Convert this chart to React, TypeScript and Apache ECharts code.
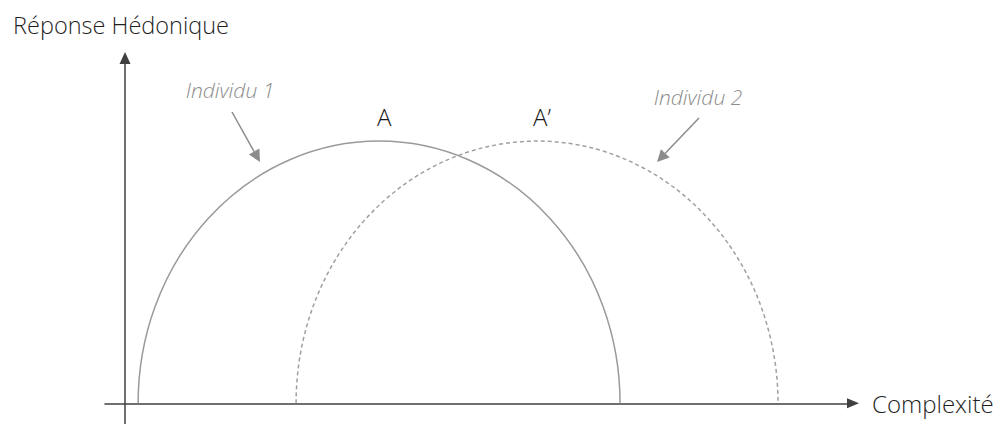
import React, { useEffect, useRef } from "react";
import * as echarts from "echarts";

// Curves: x start, x end, peak height (axis units)
const curveNames = ["Individu 1", "Individu 2"];
const curveStart = [1.8, 23.5];
const curveEnd = [68.0, 89.7];
const curvePeak = [75.9, 75.9];
const peakLabels = ["A", "A\u2019"];
const axisTitles = { x: "Complexité", y: "Réponse Hédonique" };

const FONT = '"Open Sans", "Noto Sans", sans-serif';

function arrowHead(tip: number[], from: number[], len: number, half: number) {
  const dx = tip[0] - from[0];
  const dy = tip[1] - from[1];
  const l = Math.hypot(dx, dy);
  const ux = dx / l, uy = dy / l;
  const nx = -uy, ny = ux;
  const bx = tip[0] - len * ux, by = tip[1] - len * uy;
  return {
    base: [bx, by],
    points: [tip, [bx + half * nx, by + half * ny], [bx - half * nx, by - half * ny]],
  };
}

export default function App() {
  const ref = useRef<HTMLDivElement>(null);
  useEffect(() => {
    if (!ref.current) return;
    const chart = echarts.init(ref.current, null, { renderer: "svg" });

    const a1 = arrowHead([260, 162], [232, 112], 12, 6);
    const a2 = arrowHead([657, 162], [699, 118], 12, 6);
    const annColor = "#8c8c8c";

    const series = curveNames.map((name, i) => ({
      type: "custom",
      name,
      clip: false,
      data: [[curveStart[i], curveEnd[i], curvePeak[i]]],
      renderItem: (params: any, api: any) => {
        const s = api.value(0), e = api.value(1), pk = api.value(2);
        const p0 = api.coord([s, 0]);
        const p1 = api.coord([e, 0]);
        const top = api.coord([(s + e) / 2, pk]);
        const rx = (p1[0] - p0[0]) / 2;
        const ry = p0[1] - top[1];
        return {
          type: "group",
          children: [
            {
              type: "path",
              shape: {
                pathData: `M${p0[0]} ${p0[1]} A${rx} ${ry} 0 0 1 ${p1[0]} ${p1[1]}`,
              },
              style: {
                fill: "none",
                stroke: i === 0 ? "#9a9a9a" : "#a0a0a0",
                lineWidth: 1.5,
                lineDash: i === 0 ? null : [4, 3],
              },
            },
            {
              type: "text",
              x: top[0] + 5,
              y: top[1] - 25,
              style: {
                text: peakLabels[i],
                font: `300 24px ${FONT}`,
                fill: "#1a1a1a",
                align: "center",
                verticalAlign: "middle",
              },
            },
          ],
        };
      },
    }));

    chart.setOption({
      animation: false,
      grid: { left: 105, top: 58, width: 748, height: 366 },
      xAxis: {
        type: "value",
        min: -2.75,
        max: 100,
        name: axisTitles.x,
        nameLocation: "end",
        nameGap: 19,
        nameTextStyle: {
          fontFamily: FONT, fontSize: 24, fontWeight: 300, color: "#1f1f1f",
          verticalAlign: "middle", align: "left",
        },
        axisLine: {
          onZero: true,
          symbol: ["none", "triangle"],
          symbolSize: [10, 12],
          lineStyle: { color: "#404040", width: 1.5 },
        },
        axisTick: { show: false },
        axisLabel: { show: false },
        splitLine: { show: false },
      },
      yAxis: {
        type: "value",
        min: -6,
        max: 100,
        name: axisTitles.y,
        nameLocation: "end",
        nameGap: 33,
        nameTextStyle: {
          fontFamily: FONT, fontSize: 23.5, fontWeight: 300, color: "#1f1f1f",
          verticalAlign: "middle", align: "center", padding: [0, 8, 0, 0],
        },
        axisLine: {
          onZero: true,
          symbol: ["none", "triangle"],
          symbolSize: [11, 12],
          lineStyle: { color: "#404040", width: 1.5 },
        },
        axisTick: { show: false },
        axisLabel: { show: false },
        splitLine: { show: false },
      },
      graphic: [
        {
          type: "text", x: 230, y: 90,
          style: { text: curveNames[0], font: `italic 300 21px ${FONT}`, fill: annColor, align: "center", verticalAlign: "middle" },
        },
        {
          type: "text", x: 698, y: 97,
          style: { text: curveNames[1], font: `italic 300 21px ${FONT}`, fill: annColor, align: "center", verticalAlign: "middle" },
        },
        {
          type: "line",
          shape: { x1: 232, y1: 112, x2: a1.base[0], y2: a1.base[1] },
          style: { stroke: annColor, lineWidth: 1.5 },
        },
        { type: "polygon", shape: { points: a1.points }, style: { fill: annColor } },
        {
          type: "line",
          shape: { x1: 699, y1: 118, x2: a2.base[0], y2: a2.base[1] },
          style: { stroke: annColor, lineWidth: 1.5 },
        },
        { type: "polygon", shape: { points: a2.points }, style: { fill: annColor } },
      ],
      series,
    });
    return () => chart.dispose();
  }, []);
  return (
    <div
      ref={ref}
      style={{ position: "absolute", left: 0, top: 0, width: 1001, height: 424, background: "#fff" }}
    />
  );
}
